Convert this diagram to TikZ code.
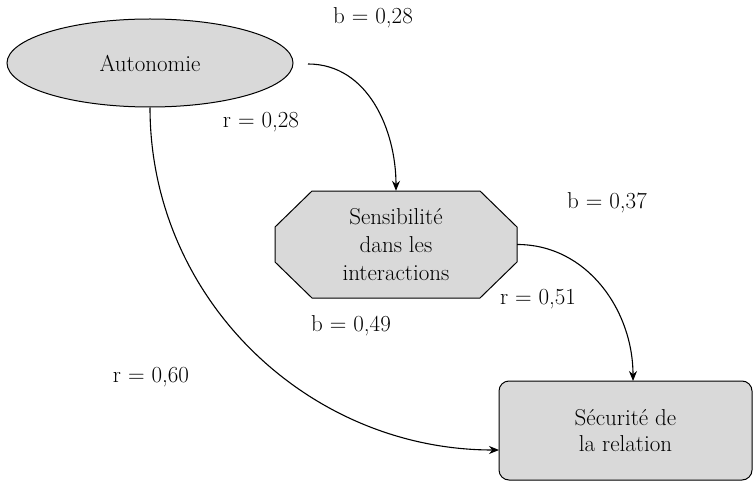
\documentclass[tikz,border=0pt]{standalone}
\usetikzlibrary{shapes.geometric,arrows.meta}
\begin{document}
\begin{tikzpicture}[x=1pt,y=-1pt,
  every node/.style={font=\fontsize{23}{28}\selectfont},
  box/.style={draw=black, line width=1pt, fill=black!15, align=center, inner sep=0pt},
  shapefill/.style={draw=black, line width=1pt, fill=black!15},
  lbl/.style={inner sep=0pt},
  conn/.style={line width=1.1pt, -{Stealth[length=10pt,width=8pt]}}]
\useasboundingbox (0,0) rectangle (754,481);
\node[box, ellipse, minimum width=286pt, minimum height=88pt] (aut) at (150,63) {Autonomie};
\draw[shapefill] (312,191) -- (480,191) -- (517,227) -- (517,262) -- (480,298)
  -- (312,298) -- (275,262) -- (275,227) -- cycle;
\node[align=center, inner sep=0pt, minimum width=242pt, minimum height=107pt] (sens) at (396,244.5) {Sensibilité\\dans les\\interactions};
\node[box, rounded corners=10pt, minimum width=253pt, minimum height=99pt] (sec) at (625.5,430.5) {Sécurité de\\[-2pt]la relation};
\coordinate (s1) at (308,64);
\coordinate (e2) at (633,381);
\coordinate (e3) at (499,450);
\draw[conn] (s1) to[out=0,in=90] (sens.north);
\draw[conn] (sens.east) to[out=0,in=90] (e2);
\draw[conn] (aut.south) to[out=-90,in=180] (e3);
\node[lbl] (l1) at (373,18) {b = 0,28};
\node[lbl] (l2) at (261,122) {r = 0,28};
\node[lbl] (l3) at (607,203) {b = 0,37};
\node[lbl] (l4) at (538,299) {r = 0,51};
\node[lbl] (l5) at (351,326) {b = 0,49};
\node[lbl] (l6) at (151,377) {r = 0,60};
\end{tikzpicture}
\end{document}
